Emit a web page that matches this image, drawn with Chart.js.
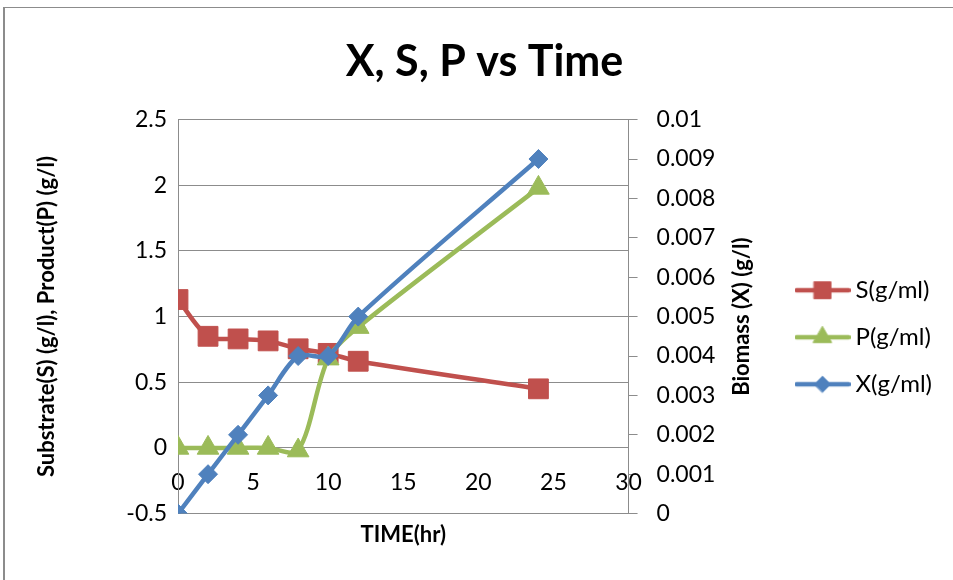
<!DOCTYPE html>
<html>
<head>
<meta charset="utf-8">
<script src="https://cdn.jsdelivr.net/npm/chart.js@4.4.1/dist/chart.umd.min.js"></script>
<style>
  html, body { margin: 0; padding: 0; background: #fff; }
  #wrap { position: relative; width: 953px; height: 580px; overflow: hidden; }
  #frame { position: absolute; left: 3px; top: 7px; width: 1000px; height: 1000px;
           border-left: 2px solid #8c8c8c; border-top: 1px solid #8c8c8c; }
  #myChart { position: absolute; left: 0; top: 0; }
</style>
</head>
<body>
<div id="wrap">
  <div id="frame"></div>
  <canvas id="myChart" width="953" height="580"></canvas>
</div>
<script>
// data
const timeHr    = [0, 2, 4, 6, 8, 10, 12, 24];
const substrate = [1.13, 0.85, 0.83, 0.815, 0.755, 0.72, 0.66, 0.45];
const product   = [0, 0, 0, 0, -0.02, 0.68, 0.92, 1.98];
const biomass   = [0, 0.001, 0.002, 0.003, 0.004, 0.004, 0.005, 0.009];

const timeTicks = [0, 5, 10, 15, 20, 25, 30];
const timeTickLabels = ['0', '5', '10', '15', '20', '25', '30'];
const leftTicks = [-0.5, 0, 0.5, 1, 1.5, 2, 2.5];
const leftTickLabels = ['-0.5', '0', '0.5', '1', '1.5', '2', '2.5'];
const rightTicks = [0, 0.001, 0.002, 0.003, 0.004, 0.005, 0.006, 0.007, 0.008, 0.009, 0.01];
const rightTickLabels = ['0', '0.001', '0.002', '0.003', '0.004', '0.005', '0.006', '0.007', '0.008', '0.009', '0.01'];

const seriesNames = ['S(g/ml)', 'P(g/ml)', 'X(g/ml)'];
const seriesColors = ['#C0504D', '#9BBB59', '#4F81BD'];
const seriesMarkers = ['rect', 'triangle', 'rectRot'];
const markerSizes = [14, 12.5, 9.5];

const gridColor = '#8c8c8c';
const fontFamily = 'Lato, "Open Sans", sans-serif';

Chart.defaults.color = '#000';
Chart.defaults.font.family = fontFamily;

function toPoints(values) {
    return values.map((v, i) => ({x: timeHr[i], y: v}));
}

// little line + marker picture for the legend, like excel does
function legendIcon(i) {
    let c = document.createElement('canvas');
    c.width = 56;
    c.height = 28;
    let ctx = c.getContext('2d');
    ctx.strokeStyle = seriesColors[i];
    ctx.lineWidth = 4.5;
    ctx.lineCap = 'round';
    ctx.beginPath();
    ctx.moveTo(2, 14);
    ctx.lineTo(54, 14);
    ctx.stroke();
    ctx.fillStyle = seriesColors[i];
    ctx.lineWidth = 1;
    Chart.helpers.drawPoint(ctx, {pointStyle: seriesMarkers[i], radius: markerSizes[i] * 0.85, rotation: 0, borderWidth: 1}, 28, 14);
    return c;
}

// right axis title reads bottom to top, chart.js would turn it the other way
const rightTitle = {
    id: 'rightTitle',
    afterDraw(chart) {
        const ctx = chart.ctx;
        const ax = chart.scales.y1;
        const area = chart.chartArea;
        ctx.save();
        ctx.translate(ax.left + 113, (area.top + area.bottom) / 2);
        ctx.rotate(-Math.PI / 2);
        ctx.font = 'bold 22px ' + fontFamily;
        ctx.fillStyle = '#000';
        ctx.textAlign = 'center';
        ctx.textBaseline = 'middle';
        ctx.fillText('Biomass (X) (g/l)', 0, 0);
        ctx.restore();
    }
};

const datasets = [substrate, product, biomass].map((vals, i) => ({
    label: seriesNames[i],
    data: toPoints(vals),
    yAxisID: i === 2 ? 'y1' : 'y',
    borderColor: seriesColors[i],
    backgroundColor: seriesColors[i],
    borderWidth: 4.5,
    pointStyle: seriesMarkers[i],
    pointRadius: markerSizes[i],
    pointHoverRadius: markerSizes[i],
    pointBorderWidth: 1,
    tension: 0.3,
    order: 3 - i
}));

const ctx = document.getElementById('myChart').getContext('2d');
const chart = new Chart(ctx, {
    type: 'line',
    data: {datasets: datasets},
    plugins: [rightTitle],
    options: {
        responsive: false,
        animation: false,
        layout: {padding: {left: 27, right: 11, top: 8, bottom: 8}},
        plugins: {
            tooltip: {enabled: false},
            title: {
                display: true,
                text: 'X, S, P vs Time',
                font: {size: 43, weight: 'bold'},
                color: '#000',
                padding: {top: 28, bottom: 32}
            },
            legend: {
                position: 'right',
                maxWidth: 200,
                // empty title only pushes the entries down a bit
                title: {display: true, text: '', font: {size: 12}, padding: 40},
                labels: {
                    usePointStyle: true,
                    pointStyleWidth: 42,
                    padding: 23,
                    font: {size: 24},
                    generateLabels: function(chart) {
                        return seriesNames.map((name, i) => ({
                            text: name,
                            pointStyle: legendIcon(i),
                            fillStyle: seriesColors[i],
                            strokeStyle: seriesColors[i],
                            lineWidth: 0,
                            hidden: false,
                            datasetIndex: i
                        }));
                    }
                }
            }
        },
        scales: {
            x: {
                type: 'linear',
                position: {y: 0},
                min: 0,
                max: 30,
                afterBuildTicks: scale => { scale.ticks = timeTicks.map(v => ({value: v})); },
                ticks: {
                    padding: 21,
                    maxRotation: 0,
                    font: {size: 23},
                    callback: (v, i) => timeTickLabels[i]
                },
                grid: {display: false, drawTicks: false},
                border: {display: true, color: gridColor, width: 1}
            },
            x2: {
                type: 'linear',
                position: 'bottom',
                min: 0,
                max: 30,
                ticks: {display: false},
                grid: {display: false, drawTicks: false},
                border: {display: false},
                title: {
                    display: true,
                    text: 'TIME(hr)',
                    font: {size: 22, weight: 'bold'},
                    padding: {top: 8, bottom: 24}
                }
            },
            y: {
                position: 'left',
                min: -0.5,
                max: 2.5,
                afterBuildTicks: scale => { scale.ticks = leftTicks.map(v => ({value: v})); },
                afterFit: scale => { scale.width = 151; },
                ticks: {
                    padding: 11,
                    font: {size: 23},
                    callback: (v, i) => leftTickLabels[i]
                },
                grid: {color: gridColor, drawTicks: false},
                border: {color: gridColor},
                title: {
                    display: true,
                    text: 'Substrate(S) (g/l), Product(P) (g/l)',
                    font: {size: 22, weight: 'bold'},
                    padding: {top: 7, bottom: 0}
                }
            },
            y1: {
                position: 'right',
                min: 0,
                max: 0.01,
                afterBuildTicks: scale => { scale.ticks = rightTicks.map(v => ({value: v})); },
                afterFit: scale => { scale.width = 150; },
                ticks: {
                    padding: 19,
                    font: {size: 23},
                    callback: (v, i) => rightTickLabels[i]
                },
                grid: {drawOnChartArea: false, drawTicks: true, tickLength: 9, color: gridColor},
                border: {color: gridColor}
            }
        }
    }
});
</script>
</body>
</html>
